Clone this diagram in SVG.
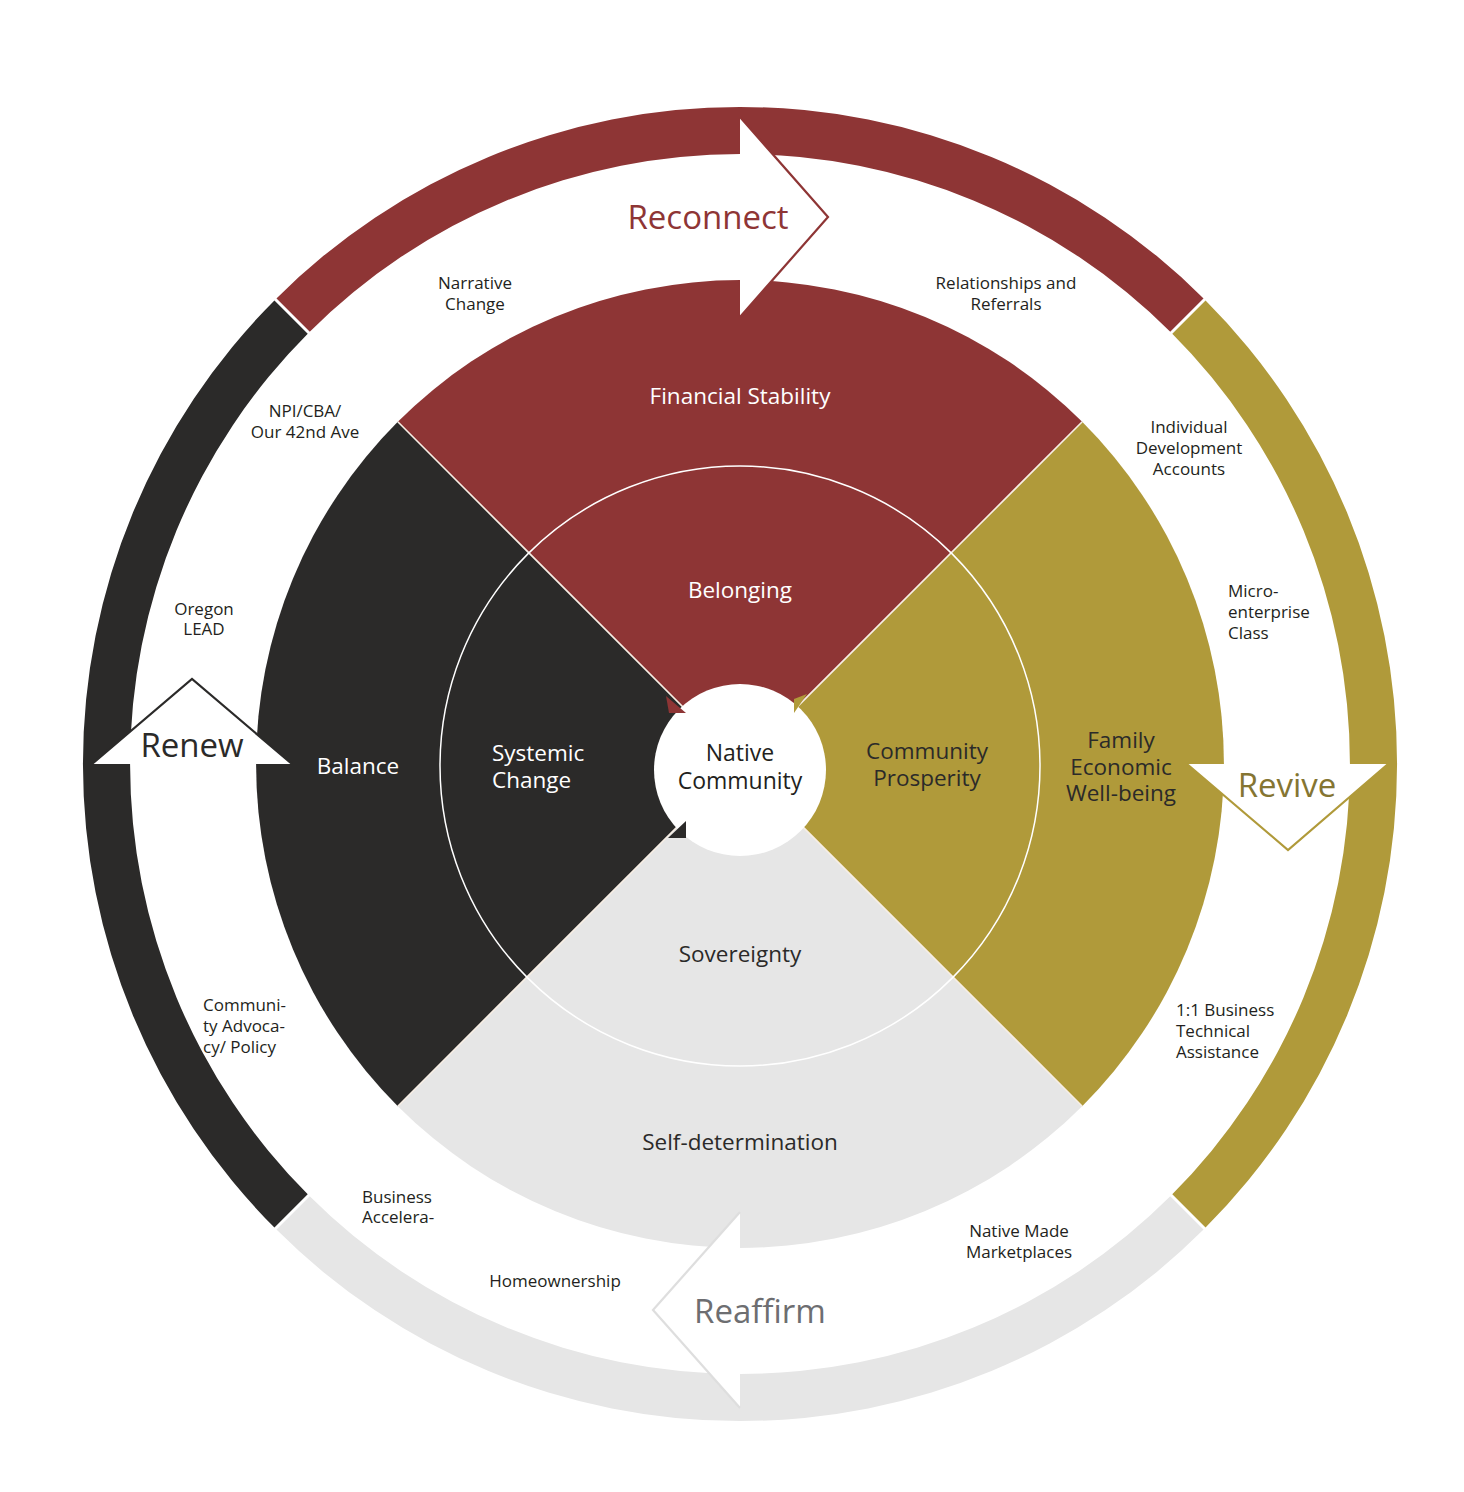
<svg xmlns="http://www.w3.org/2000/svg" width="1464" height="1492" viewBox="0 0 1464 1492">
<style>
text{font-family:"Open Sans","Noto Sans","DejaVu Sans",sans-serif;text-anchor:middle}
.sm{font-size:17px;fill:#231f20}
.smL{font-size:17px;fill:#231f20;text-anchor:start}
.wl{font-size:22.5px;fill:#ffffff}
.wlL{font-size:22.5px;fill:#ffffff;text-anchor:start}
.wd{font-size:22.5px;fill:#2b2a29}
.big{font-size:33px}
.red{fill:#8e3535}
.gold{fill:#b09a3a}
.blk{fill:#2b2a29}
.gry{fill:#e6e6e6}
.sep{stroke:#ffffff;stroke-width:3;fill:none}
.sep2{stroke:#f7eee4;stroke-width:1.6;fill:none}
</style>
<rect width="1464" height="1492" fill="#ffffff"/>
<g id="outer-ring">
<path class="red" d="M275.4,299.4 A657,657 0 0 1 1204.6,299.4 L1171.3,332.7 A610,610 0 0 0 308.7,332.7 Z"/>
<path class="gold" d="M1204.6,299.4 A657,657 0 0 1 1204.6,1228.6 L1171.3,1195.3 A610,610 0 0 0 1171.3,332.7 Z"/>
<path class="gry" d="M1204.6,1228.6 A657,657 0 0 1 275.4,1228.6 L308.7,1195.3 A610,610 0 0 0 1171.3,1195.3 Z"/>
<path class="blk" d="M275.4,1228.6 A657,657 0 0 1 275.4,299.4 L308.7,332.7 A610,610 0 0 0 308.7,1195.3 Z"/>
<path class="sep" d="M270,294 L314,338 M1210,294 L1166,338 M1210,1234 L1166,1190 M270,1234 L314,1190"/>
</g>
<g id="wedge-financial-stability"><path class="red" d="M740,764 L397.8,421.8 A484,484 0 0 1 1082.2,421.8 Z"/></g>
<g id="wedge-family-economic"><path class="gold" d="M740,764 L1082.2,421.8 A484,484 0 0 1 1082.2,1106.2 Z"/></g>
<g id="wedge-self-determination"><path class="gry" d="M740,764 L1082.2,1106.2 A484,484 0 0 1 397.8,1106.2 Z"/></g>
<g id="wedge-balance"><path class="blk" d="M740,764 L397.8,1106.2 A484,484 0 0 1 397.8,421.8 Z"/></g>
<g id="separators">
<path class="sep2" d="M740,764 L397.8,421.8 M740,764 L1082.2,421.8 M740,764 L1082.2,1106.2 M740,764 L397.8,1106.2"/>
<circle cx="740" cy="766" r="300" fill="none" stroke="#ffffff" stroke-width="1.5"/>
</g>
<g id="native-community">
<circle cx="740" cy="770" r="86" fill="#ffffff"/>
<polygon class="red" points="666,696 686,713 669,713"/>
<polygon class="gold" points="794,699 807,694 794,713"/>
<polygon class="blk" points="686,821 686,838 668,838"/>
<text font-size="23" fill="#231f20"><tspan x="740" y="761">Native</tspan><tspan x="740" y="789">Community</tspan></text>
</g>
<g id="arrows">
<polygon points="740,117 828,217 740,317" fill="#ffffff"/>
<polyline points="740,117 828,217 740,317" fill="none" stroke="#8e3535" stroke-width="2.2"/>
<polygon points="92,764 192,679 292,764" fill="#ffffff"/>
<polyline points="92,764 192,679 292,764" fill="none" stroke="#2b2a29" stroke-width="2.2"/>
<polygon points="1187,764 1288,850 1388,764" fill="#ffffff"/>
<polyline points="1187,764 1288,850 1388,764" fill="none" stroke="#b09a3a" stroke-width="2.2"/>
<polygon points="740,1212 653,1310 740,1408" fill="#ffffff"/>
<polyline points="740,1212 653,1310 740,1408" fill="none" stroke="#dedede" stroke-width="2.2"/>
</g>
<g id="arrow-labels">
<text class="big" x="708" y="229" fill="#8e3535">Reconnect</text>
<text class="big" x="192" y="757" fill="#2b2a29">Renew</text>
<text class="big" x="1287" y="797" fill="#857532">Revive</text>
<text class="big" x="760" y="1323" fill="#6d6e71">Reaffirm</text>
</g>
<g id="wedge-labels">
<text class="wl" x="740" y="404">Financial Stability</text>
<text class="wl" x="740" y="598">Belonging</text>
<text class="wl" x="358" y="774">Balance</text>
<text class="wlL"><tspan x="492" y="761">Systemic</tspan><tspan x="492" y="788">Change</tspan></text>
<text class="wd"><tspan x="927" y="759">Community</tspan><tspan x="927" y="786">Prosperity</tspan></text>
<text class="wd"><tspan x="1121" y="748">Family</tspan><tspan x="1121" y="775">Economic</tspan><tspan x="1121" y="801">Well-being</tspan></text>
<text class="wd" x="740" y="962">Sovereignty</text>
<text class="wd" x="740" y="1150">Self-determination</text>
</g>
<g id="program-labels">
<text class="sm"><tspan x="475" y="289">Narrative</tspan><tspan x="475" y="310">Change</tspan></text>
<text class="sm"><tspan x="1006" y="289">Relationships and</tspan><tspan x="1006" y="310">Referrals</tspan></text>
<text class="sm"><tspan x="305" y="417">NPI/CBA/</tspan><tspan x="305" y="438">Our 42nd Ave</tspan></text>
<text class="sm"><tspan x="1189" y="433">Individual</tspan><tspan x="1189" y="454">Development</tspan><tspan x="1189" y="475">Accounts</tspan></text>
<text class="sm"><tspan x="204" y="615">Oregon</tspan><tspan x="204" y="635">LEAD</tspan></text>
<text class="smL"><tspan x="1228" y="597">Micro-</tspan><tspan x="1228" y="618">enterprise</tspan><tspan x="1228" y="639">Class</tspan></text>
<text class="smL"><tspan x="203" y="1011">Communi-</tspan><tspan x="203" y="1032">ty Advoca-</tspan><tspan x="203" y="1053">cy/ Policy</tspan></text>
<text class="smL"><tspan x="1176" y="1016">1:1 Business</tspan><tspan x="1176" y="1037">Technical</tspan><tspan x="1176" y="1058">Assistance</tspan></text>
<text class="smL"><tspan x="362" y="1203">Business</tspan><tspan x="362" y="1223">Accelera-</tspan></text>
<text class="sm" x="555" y="1287">Homeownership</text>
<text class="sm"><tspan x="1019" y="1237">Native Made</tspan><tspan x="1019" y="1258">Marketplaces</tspan></text>
</g>
</svg>
